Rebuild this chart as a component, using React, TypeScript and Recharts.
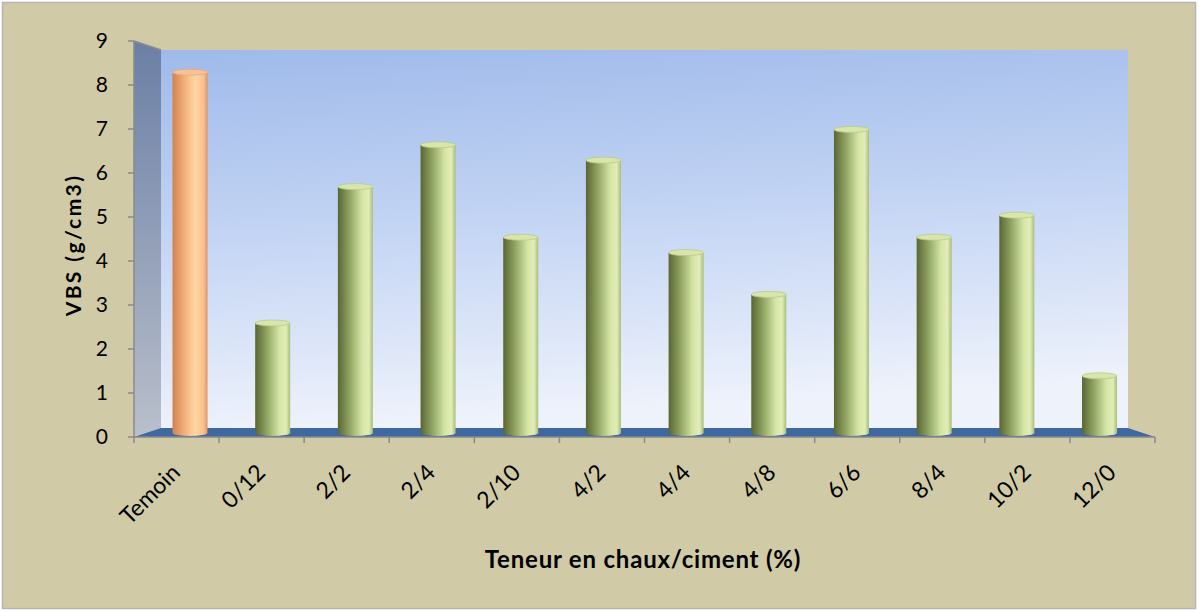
import { BarChart, Bar, XAxis, YAxis, Cell, Label } from "recharts"

const categories = ["Temoin", "0/12", "2/2", "2/4", "2/10", "4/2", "4/4", "4/8", "6/6", "8/4", "10/2", "12/0"]
const vbs = [8.2, 2.5, 5.6, 6.55, 4.45, 6.2, 4.1, 3.15, 6.9, 4.45, 4.95, 1.3]
const yTicks = [0, 1, 2, 3, 4, 5, 6, 7, 8, 9]

const data = categories.map((name, i) => ({ name, vbs: vbs[i] }))

const W = 1199
const H = 612
const LEFT = 134
const TOP = 41
const RIGHT = 1155
const BOTTOM = 437
const DEPTH_X = 27
const DEPTH_Y = 9
const BAND = (RIGHT - LEFT) / categories.length
const FONT = "Lato, 'Open Sans', sans-serif"

// 3D perspective: bars sit a bit inside the floor, so they drift left towards the right end
function Cylinder(props: any) {
  const { x, y, width, height, fill, index } = props
  if (height == null || width == null) return null
  const dx = 13.5 - 2.4 * index
  const dy = -4
  const cx = x + dx
  const top = y + dy
  const bottom = y + height + dy
  const control = index === 0
  const cap = control ? "#f6c29a" : "#d8e6ad"
  return (
    <g>
      <rect x={cx} y={top} width={width} height={bottom - top} fill={fill} />
      <ellipse cx={cx + width / 2} cy={bottom} rx={width / 2} ry={3} fill={fill} />
      <ellipse cx={cx + width / 2} cy={top} rx={width / 2} ry={3} fill={cap} stroke={control ? "#e8a477" : "#b8cc86"} strokeWidth={0.8} />
    </g>
  )
}

function XTick(props: any) {
  const { x, payload, index } = props
  const tx = x + 5
  const ty = BOTTOM + 37
  return (
    <g>
      <line x1={x - BAND / 2} y1={BOTTOM} x2={x - BAND / 2} y2={BOTTOM + 6} stroke="#8a8a8a" strokeWidth={1.5} />
      {index === categories.length - 1 && (
        <line x1={x + BAND / 2} y1={BOTTOM} x2={x + BAND / 2} y2={BOTTOM + 6} stroke="#8a8a8a" strokeWidth={1.5} />
      )}
      <text x={tx} y={ty} textAnchor="end" transform={`rotate(-45, ${tx}, ${ty})`} fontSize={23} fontFamily={FONT} fill="#000">
        {payload.value}
      </text>
    </g>
  )
}

function Walls() {
  return (
    <svg width={W} height={H} style={{ position: "absolute", left: 0, top: 0 }}>
      <defs>
        <linearGradient id="backWall" x1="0" y1="0" x2="0.15" y2="1">
          <stop offset="0" stopColor="#9fbaea" />
          <stop offset="0.5" stopColor="#c4d5f4" />
          <stop offset="1" stopColor="#eef2fb" />
        </linearGradient>
        <linearGradient id="sideWall" x1="0" y1="0" x2="0" y2="1">
          <stop offset="0" stopColor="#6b7fa5" />
          <stop offset="1" stopColor="#b9bfcb" />
        </linearGradient>
      </defs>
      <rect x={2.5} y={2.5} width={W - 6} height={H - 6} fill="#d0cba6" stroke="#b5b5b5" strokeWidth={1.5} />
      <rect x={LEFT + DEPTH_X} y={TOP + DEPTH_Y} width={RIGHT - LEFT - 2 * DEPTH_X} height={BOTTOM - TOP - 2 * DEPTH_Y} fill="url(#backWall)" />
      <polygon
        points={`${LEFT},${TOP} ${LEFT + DEPTH_X},${TOP + DEPTH_Y} ${LEFT + DEPTH_X},${BOTTOM - DEPTH_Y} ${LEFT},${BOTTOM}`}
        fill="url(#sideWall)"
      />
      <polygon
        points={`${LEFT},${BOTTOM} ${LEFT + DEPTH_X},${BOTTOM - DEPTH_Y} ${RIGHT - DEPTH_X},${BOTTOM - DEPTH_Y} ${RIGHT},${BOTTOM}`}
        fill="#3f67a0"
      />
      <line x1={LEFT} y1={TOP} x2={LEFT + DEPTH_X} y2={TOP + DEPTH_Y} stroke="#8a8a8a" strokeWidth={1.5} />
    </svg>
  )
}

export default function App() {
  return (
    <div style={{ position: "fixed", left: 0, top: 0, width: W, height: H }}>
      <Walls />
      <div style={{ position: "absolute", left: 0, top: 0 }}>
        <BarChart width={W} height={H} data={data} margin={{ top: TOP, right: W - RIGHT, bottom: 0, left: 0 }} barSize={35}>
          <defs>
            <linearGradient id="greenBar" x1="0" y1="0" x2="1" y2="0">
              <stop offset="0" stopColor="#5a6632" />
              <stop offset="0.35" stopColor="#93a765" />
              <stop offset="0.7" stopColor="#d6e6a6" />
              <stop offset="0.88" stopColor="#e2edb6" />
              <stop offset="1" stopColor="#a8bd79" />
            </linearGradient>
            <linearGradient id="orangeBar" x1="0" y1="0" x2="1" y2="0">
              <stop offset="0" stopColor="#d0834f" />
              <stop offset="0.35" stopColor="#f3b17c" />
              <stop offset="0.65" stopColor="#ffd7a4" />
              <stop offset="0.9" stopColor="#f8be8c" />
              <stop offset="1" stopColor="#dc925e" />
            </linearGradient>
          </defs>
          <XAxis
            dataKey="name"
            height={H - BOTTOM}
            axisLine={{ stroke: "#8a8a8a", strokeWidth: 1.5 }}
            tickLine={false}
            tick={<XTick />}
            interval={0}
          >
            <Label
              content={() => (
                <text x={643} y={568} textAnchor="middle" fontSize={24} fontWeight="bold" letterSpacing={0.8} fontFamily={FONT} fill="#000">
                  Teneur en chaux/ciment (%)
                </text>
              )}
            />
          </XAxis>
          <YAxis
            width={LEFT}
            domain={[0, 9]}
            ticks={yTicks}
            interval={0}
            axisLine={{ stroke: "#8a8a8a", strokeWidth: 1.5 }}
            tickLine={{ stroke: "#8a8a8a", strokeWidth: 1.5 }}
            tickSize={6}
            tickMargin={20}
            tick={{ fontSize: 21, fontFamily: FONT, fill: "#000" }}
          >
            <Label
              content={() => (
                <text x={81} y={245} textAnchor="middle" transform="rotate(-90, 81, 245)" fontSize={21} fontWeight="bold" letterSpacing={2.4} fontFamily={FONT} fill="#000">
                  VBS  (g/cm3)
                </text>
              )}
            />
          </YAxis>
          <Bar dataKey="vbs" shape={<Cylinder />} isAnimationActive={false}>
            {data.map((d, i) => (
              <Cell key={d.name} fill={i === 0 ? "url(#orangeBar)" : "url(#greenBar)"} />
            ))}
          </Bar>
        </BarChart>
      </div>
    </div>
  )
}
